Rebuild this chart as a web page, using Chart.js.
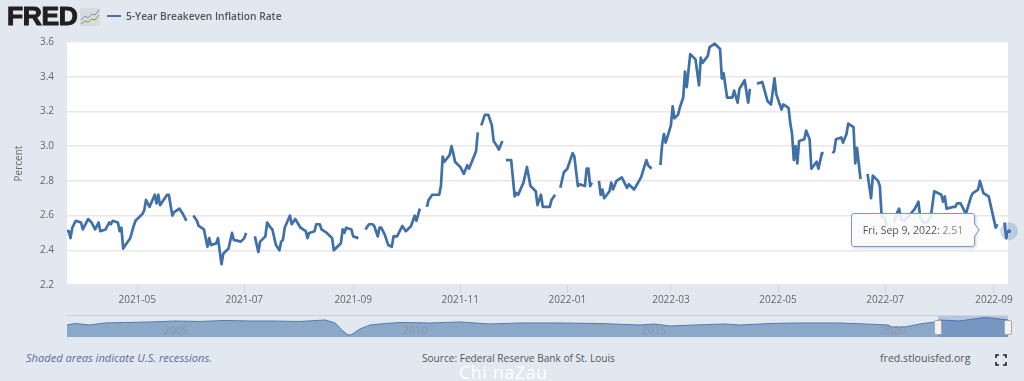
<!DOCTYPE html>
<html>
<head>
<meta charset="utf-8">
<title>5-Year Breakeven Inflation Rate</title>
<script src="https://cdn.jsdelivr.net/npm/chart.js@4"></script>
<style>
  html, body { margin: 0; padding: 0; }
  body { width: 1024px; height: 381px; background: #e1e8f0; position: relative; overflow: hidden; font-family: "Open Sans", sans-serif; }
  .abs { position: absolute; white-space: nowrap; }
  #mainWrap { position: absolute; left: 0; top: 0; width: 1024px; height: 310px; }
  #navWrap { position: absolute; left: 67px; top: 316px; width: 941px; height: 21px; }
  #logo { left: 7px; top: 1px; font: 900 26.5px/30px "Liberation Sans", sans-serif; color: #231f20; letter-spacing: -0.4px; -webkit-text-stroke: 1px #231f20; }
  #legendKey { left: 107px; top: 15px; width: 14px; height: 2px; background: #4572a7; }
  #legendText { left: 126px; top: 8px; font-size: 10.2px; line-height: 16px; font-weight: 600; color: #555; }
  .navLabel { top: 323px; font-size: 11px; line-height: 14px; color: #8a97a8; transform: translateX(-50%); }
  #navTop { left: 67px; top: 315px; width: 941px; height: 1px; background: #ccd3dc; }
  #navMask { left: 938px; top: 316px; width: 70px; height: 21px; background: rgba(60,95,170,0.25); }
  .handle { top: 320px; width: 6px; height: 13px; background: #f2f2f2; border: 1px solid #a8a8a8; border-radius: 2px; }
  #note { left: 26px; top: 350px; font-size: 11.1px; line-height: 16px; font-style: italic; color: #5b6c9e; }
  #source { left: 422px; top: 350px; font-size: 10.1px; line-height: 16px; color: #555; }
  #site { left: 880px; top: 350px; font-size: 10.6px; line-height: 16px; color: #555; }
  #mark { left: 459px; top: 361px; font-size: 17.5px; line-height: 22px; color: #fff; letter-spacing: 0.8px; }
  #tip { position: absolute; width: 122px; height: 32px; background: rgba(250,250,250,0.88); border: 1px solid #7d9cc0; border-radius: 3px; box-shadow: 1px 1px 3px rgba(0,0,0,0.2); font-size: 10.5px; line-height: 32px; text-align: center; color: #555; white-space: nowrap; }
  #tip i { position: absolute; right: -5px; top: 12px; width: 7px; height: 7px; background: #fafafa; border-top: 1px solid #7d9cc0; border-right: 1px solid #7d9cc0; transform: rotate(45deg) skew(10deg, 10deg); }
  #tip span { color: #888; }
</style>
</head>
<body>
<div id="mainWrap"><canvas id="mainChart"></canvas></div>
<div id="navTop" class="abs"></div>
<div id="navWrap"><canvas id="navChart"></canvas></div>
<div id="navMask" class="abs"></div>
<div class="abs navLabel" style="left:176px">2005</div>
<div class="abs navLabel" style="left:415px">2010</div>
<div class="abs navLabel" style="left:654px">2015</div>
<div class="abs navLabel" style="left:893px">2020</div>
<div class="abs handle" style="left:934px"></div>
<div class="abs handle" style="left:1004px"></div>

<div id="logo" class="abs">FRED</div>
<svg class="abs" style="left:80px;top:8px" width="20" height="18" viewBox="0 0 20 18">
  <rect width="20" height="18" rx="1" fill="#d8dbdc"/>
  <polyline points="1,12 5,8 8,10 12,6 15,7 19,2" fill="none" stroke="#6d93bd" stroke-width="1"/>
  <polyline points="1,16 5,13 8,14 12,11 15,12 19,7" fill="none" stroke="#7fa63c" stroke-width="1"/>
</svg>
<div id="legendKey" class="abs"></div>
<div id="legendText" class="abs">5-Year Breakeven Inflation Rate</div>

<div id="note" class="abs">Shaded areas indicate U.S. recessions.</div>
<div id="source" class="abs">Source: Federal Reserve Bank of St. Louis</div>
<div id="site" class="abs">fred.stlouisfed.org</div>
<svg class="abs" style="left:995px;top:354px" width="12" height="12" viewBox="0 0 12 12">
  <path d="M1 4V1H4M8 1H11V4M11 8V11H8M4 11H1V8" fill="none" stroke="#222" stroke-width="1.6"/>
</svg>
<div id="mark" class="abs">Chi naZau</div>
<div id="tip"></div>

<script>
// ── Series (x = days since 2021-03-22, null = holiday gap) ──
const dayOffsets = [
  0,1,2,3,5,8,9,12,14,16,18,19,22,24,25,26,29,30,31,32,34,36,38,39,43,44,45,47,50,51,52,53,57,58,60,61,64,66,68,70,
  72,74,75,78,80,81,82,85,86,88,89,92,94,95,99,101,102,105,
  107,109,110,113,114,116,117,119,121,122,123,124,127,128,130,133,136,137,138,141,142,144,145,148,151,152,155,156,157,158,159,162,163,166,168,
  170,172,174,175,177,178,179,181,183,185,186,188,191,193,196,198,199,201,203,
  205,206,208,212,213,214,215,218,219,220,221,224,226,228,229,233,234,235,
  236,238,240,242,243,245,246,248,249,
  250,253,255,256,257,260,262,264,267,268,270,271,275,276,278,279,
  281,283,285,288,289,291,292,295,296,297,298,299,301,
  303,304,305,306,309,310,311,313,316,319,320,323,327,330,331,333,336,
  338,339,340,341,344,345,346,348,349,351,352,353,355,358,360,361,362,365,366,369,372,373,374,376,379,380,382,383,386,388,389,391,
  393,396,399,401,403,404,407,408,411,412,413,414,415,416,417,420,421,423,424,427,428,430,431,433,
  436,437,438,441,442,444,445,448,449,450,451,452,454,
  456,458,459,462,463,464,466,467,469,
  471,473,474,475,477,479,483,485,486,488,490,492,494,498,499,500,501,505,506,507,509,512,515,516,519,520,522,525,527,529,530,532,
  534,535,536
];
const breakeven = [
  2.51,2.51,2.47,2.53,2.57,2.56,2.52,2.58,2.56,2.52,2.56,2.51,2.52,2.56,2.55,2.57,2.56,2.51,2.53,2.41,2.44,2.47,2.54,2.57,2.61,2.63,2.69,2.65,2.72,2.67,2.72,2.66,2.72,2.72,2.60,2.62,2.64,2.61,2.57,null,
  2.60,2.57,2.54,2.52,2.42,2.47,2.43,2.44,2.47,2.32,2.38,2.41,2.50,2.46,2.45,2.47,2.50,null,
  2.48,2.39,2.45,2.48,2.56,2.53,2.52,2.43,2.40,2.45,2.46,2.53,2.60,2.55,2.58,2.53,2.51,2.47,2.50,2.51,2.55,2.55,2.52,2.50,2.47,2.40,2.43,2.44,2.52,2.50,2.53,2.52,2.48,2.47,null,
  2.52,2.55,2.55,2.54,2.48,2.53,2.53,2.49,2.43,2.42,2.48,2.48,2.54,2.51,2.54,2.60,2.57,2.64,null,
  2.65,2.69,2.72,2.72,2.77,2.94,2.91,2.95,3.00,2.96,2.91,2.88,2.84,2.89,2.87,2.97,3.08,null,
  3.12,3.18,3.18,3.12,3.03,3.00,2.98,3.03,null,
  2.92,2.92,2.71,2.73,2.72,2.79,2.88,2.77,2.74,2.66,2.72,2.65,2.65,2.69,2.72,null,
  2.76,2.85,2.87,2.96,2.94,2.77,2.78,2.77,2.87,2.87,2.77,2.79,null,
  2.80,2.72,2.75,2.70,2.74,2.79,2.75,2.80,2.82,2.76,2.78,2.75,2.82,2.92,2.89,2.87,null,
  2.89,3.01,3.07,3.02,3.12,3.23,3.16,3.18,3.22,3.28,3.43,3.34,3.53,3.50,3.35,3.51,3.48,3.52,3.57,3.59,3.56,3.39,3.42,3.28,3.28,3.32,3.25,3.33,3.38,3.25,3.33,null,
  3.36,3.37,3.26,3.24,3.39,3.30,3.21,3.24,3.22,3.13,3.07,2.92,3.00,2.90,3.03,3.04,3.09,3.04,2.87,2.91,2.87,2.96,2.96,null,
  2.96,2.97,3.04,3.05,3.02,3.07,3.13,3.11,2.90,2.99,2.90,2.81,null,
  2.84,2.70,2.83,2.80,2.77,2.60,2.58,2.54,null,
  2.56,2.62,2.64,2.58,2.57,2.59,2.64,2.68,2.59,2.56,2.56,2.59,2.74,2.72,2.68,2.71,2.64,2.65,2.65,2.67,2.67,2.61,2.71,2.73,2.75,2.80,2.73,2.71,2.62,2.53,2.55,null,
  2.56,2.47,2.51
];
const tickDays   = [40, 101, 163, 224, 285, 344, 405, 466, 528];
const tickLabels = ['2021-05','2021-07','2021-09','2021-11','2022-01','2022-03','2022-05','2022-07','2022-09'];
const yTicks     = [2.2, 2.4, 2.6, 2.8, 3.0, 3.2, 3.4, 3.6];
const lastDate   = 'Fri, Sep 9, 2022';

// Navigator strip, full history of the series
const navYears  = [2003,2003.17,2003.48,2003.79,2004.21,2004.74,2005.26,2005.78,2006.31,2006.83,2007.25,2007.87,2008.4,2008.61,2008.75,2008.88,2008.96,2009.13,2009.34,2009.65,2009.97,2010.59,2011.22,2011.85,2012.48,2013.31,2014.15,2014.99,2015.3,2015.62,2016.14,2016.77,2017.08,2017.71,2018.33,2019.17,2019.69,2020.18,2020.26,2020.53,2020.85,2021.16,2021.26,2021.68,2021.89,2022.21,2022.52,2022.69];
const navValues = [2.05,2.34,2.05,2.44,2.53,2.63,2.82,2.73,2.92,2.82,2.82,2.73,3.01,2.44,1.09,0.13,0.23,1.29,2.05,2.34,2.53,2.44,2.63,2.25,2.44,2.44,2.34,2.05,2.25,1.86,2.05,2.25,2.05,2.34,2.44,2.44,2.25,2.05,1.67,1.67,2.25,2.63,3.01,2.82,3.11,3.49,3.21,3.01];

// ── Helpers ──────────────────────────────────────────────────────────────────
const LINE = '#4070a8';
const TICK_FONT = { family: '"Open Sans", sans-serif', size: 10 };

const plotBackground = {
  id: 'plotBackground',
  beforeDraw(chart) {
    const a = chart.chartArea;
    chart.ctx.save();
    chart.ctx.fillStyle = '#fff';
    chart.ctx.fillRect(a.left, a.top, a.width, a.height);
    chart.ctx.restore();
  },
};

// hover marker on the last point
const lastMarker = {
  id: 'lastMarker',
  afterDatasetsDraw(chart) {
    const pts = chart.getDatasetMeta(0).data;
    const p = pts[pts.length - 1];
    const ctx = chart.ctx;
    ctx.save();
    ctx.fillStyle = 'rgba(69,114,167,0.25)';
    ctx.beginPath(); ctx.arc(p.x + 1, p.y, 9, 0, Math.PI * 2); ctx.fill();
    ctx.fillStyle = LINE;
    ctx.beginPath(); ctx.arc(p.x + 1, p.y, 2, 0, Math.PI * 2); ctx.fill();
    ctx.restore();
  },
};

// ── Main chart ───────────────────────────────────────────────────────────────
const mainChart = new Chart(document.getElementById('mainChart'), {
  type: 'line',
  data: {
    datasets: [{
      label: '5-Year Breakeven Inflation Rate',
      data: dayOffsets.map((d, i) => ({ x: d, y: breakeven[i] })),
      borderColor: LINE,
      borderWidth: 2.7,
      borderJoinStyle: 'round',
      pointRadius: 0,
      tension: 0,
      spanGaps: false,
    }],
  },
  options: {
    responsive: true,
    maintainAspectRatio: false,
    animation: false,
    layout: { padding: { left: 0, right: 16, top: 42, bottom: 0 } },
    plugins: { legend: { display: false }, tooltip: { enabled: false } },
    scales: {
      x: {
        type: 'linear',
        min: 0,
        max: 536,
        afterFit: s => { s.height = 25; },
        afterBuildTicks: s => { s.ticks = tickDays.map(v => ({ value: v })); },
        border: { display: false },
        grid: { drawOnChartArea: false, drawTicks: true, tickLength: 8, tickColor: '#ccd6eb' },
        ticks: {
          autoSkip: false,
          maxRotation: 0,
          padding: 1,
          color: '#666',
          font: TICK_FONT,
          callback: v => tickLabels[tickDays.indexOf(v)],
        },
      },
      y: {
        min: 2.2,
        max: 3.6,
        afterFit: s => { s.width = 67; },
        afterBuildTicks: s => { s.ticks = yTicks.map(v => ({ value: v })); },
        border: { display: false },
        grid: { color: '#e8e8e8', lineWidth: 1.5, drawTicks: false },
        ticks: { padding: 13, color: '#666', font: TICK_FONT, callback: v => v.toFixed(1) },
        title: {
          display: true,
          text: 'Percent',
          color: '#666',
          font: TICK_FONT,
          padding: { top: 13, bottom: 0 },
        },
      },
    },
  },
  plugins: [plotBackground, lastMarker],
});

// ── Navigator ────────────────────────────────────────────────────────────────
new Chart(document.getElementById('navChart'), {
  type: 'line',
  data: {
    datasets: [{
      data: navYears.map((y, i) => ({ x: y, y: navValues[i] })),
      borderColor: '#4f7bad',
      borderWidth: 1,
      backgroundColor: 'rgba(69,114,167,0.55)',
      fill: 'start',
      pointRadius: 0,
      tension: 0,
    }],
  },
  options: {
    responsive: true,
    maintainAspectRatio: false,
    animation: false,
    layout: { padding: 0 },
    plugins: { legend: { display: false }, tooltip: { enabled: false } },
    scales: {
      x: { type: 'linear', display: false, min: 2003, max: 2022.69 },
      y: { display: false, min: -0.25, max: 3.78 },
    },
  },
});

// ── Tooltip box next to the last point ───────────────────────────────────────
const pts = mainChart.getDatasetMeta(0).data;
const lastPt = pts[pts.length - 1];
const tip = document.getElementById('tip');
tip.innerHTML = `${lastDate}: <span>${breakeven[breakeven.length - 1].toFixed(2)}</span><i></i>`;
tip.style.left = (lastPt.x - 157) + 'px';
tip.style.top  = (lastPt.y - 18) + 'px';
</script>
</body>
</html>
